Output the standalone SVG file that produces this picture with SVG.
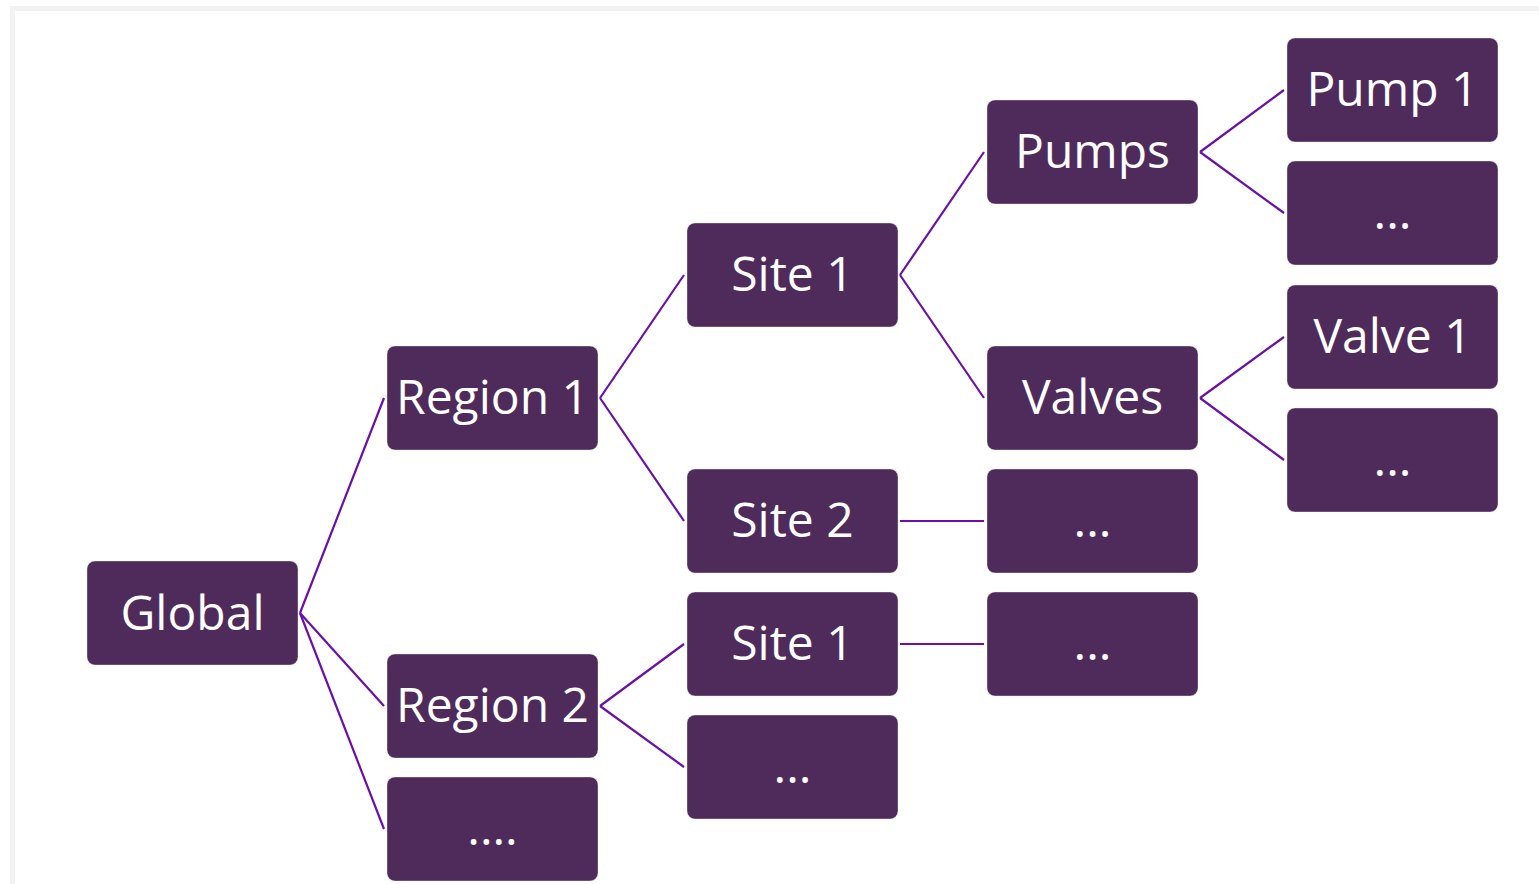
<svg xmlns="http://www.w3.org/2000/svg" width="1539" height="884" viewBox="0 0 1539 884">
<style>
.node rect{fill:#4f2b5b;stroke:#ffffff;stroke-opacity:0.35;stroke-width:1}
.node text{fill:#ffffff;font-family:"Open Sans","Noto Sans",sans-serif;font-size:48px;text-anchor:middle}
.conn line{stroke:#6a10a8;stroke-width:2.2;fill:none}
</style>
<rect x="0" y="0" width="1539" height="884" fill="#ffffff"/>
<rect x="10" y="6" width="1529" height="5" fill="#f2f2f2"/>
<rect x="10" y="6" width="5" height="878" fill="#f2f2f2"/>
<g id="connectors" class="conn">
<line x1="300" y1="613" x2="384" y2="398"/>
<line x1="300" y1="613" x2="384" y2="706"/>
<line x1="300" y1="613" x2="384" y2="829"/>
<line x1="600" y1="398" x2="684" y2="275"/>
<line x1="600" y1="398" x2="684" y2="521"/>
<line x1="600" y1="706" x2="684" y2="644"/>
<line x1="600" y1="706" x2="684" y2="767"/>
<line x1="900" y1="275" x2="984" y2="152"/>
<line x1="900" y1="275" x2="984" y2="398"/>
<line x1="900" y1="521" x2="984" y2="521"/>
<line x1="900" y1="644" x2="984" y2="644"/>
<line x1="1200" y1="152" x2="1284" y2="90"/>
<line x1="1200" y1="152" x2="1284" y2="213"/>
<line x1="1200" y1="398" x2="1284" y2="337"/>
<line x1="1200" y1="398" x2="1284" y2="460"/>
</g>
<g id="global" class="node"><rect x="87" y="561" width="211" height="104" rx="8"/><text x="192.5" y="630">Global</text></g>
<g id="region1" class="node"><rect x="387" y="346" width="211" height="104" rx="8"/><text x="492.5" y="414">Region 1</text></g>
<g id="region2" class="node"><rect x="387" y="654" width="211" height="104" rx="8"/><text x="492.5" y="722">Region 2</text></g>
<g id="region-more" class="node"><rect x="387" y="777" width="211" height="104" rx="8"/><text x="492.5" y="845">....</text></g>
<g id="r1-site1" class="node"><rect x="687" y="223" width="211" height="104" rx="8"/><text x="792.5" y="291">Site 1</text></g>
<g id="r1-site2" class="node"><rect x="687" y="469" width="211" height="104" rx="8"/><text x="792.5" y="537">Site 2</text></g>
<g id="r2-site1" class="node"><rect x="687" y="592" width="211" height="104" rx="8"/><text x="792.5" y="660">Site 1</text></g>
<g id="r2-more" class="node"><rect x="687" y="715" width="211" height="104" rx="8"/><text x="792.5" y="783">...</text></g>
<g id="pumps" class="node"><rect x="987" y="100" width="211" height="104" rx="8"/><text x="1092.5" y="168">Pumps</text></g>
<g id="valves" class="node"><rect x="987" y="346" width="211" height="104" rx="8"/><text x="1092.5" y="414">Valves</text></g>
<g id="site2-more" class="node"><rect x="987" y="469" width="211" height="104" rx="8"/><text x="1092.5" y="537">...</text></g>
<g id="r2site1-more" class="node"><rect x="987" y="592" width="211" height="104" rx="8"/><text x="1092.5" y="660">...</text></g>
<g id="pump1" class="node"><rect x="1287" y="38" width="211" height="104" rx="8"/><text x="1392.5" y="106">Pump 1</text></g>
<g id="pump-more" class="node"><rect x="1287" y="161" width="211" height="104" rx="8"/><text x="1392.5" y="229">...</text></g>
<g id="valve1" class="node"><rect x="1287" y="285" width="211" height="104" rx="8"/><text x="1392.5" y="353">Valve 1</text></g>
<g id="valve-more" class="node"><rect x="1287" y="408" width="211" height="104" rx="8"/><text x="1392.5" y="476">...</text></g>
</svg>
